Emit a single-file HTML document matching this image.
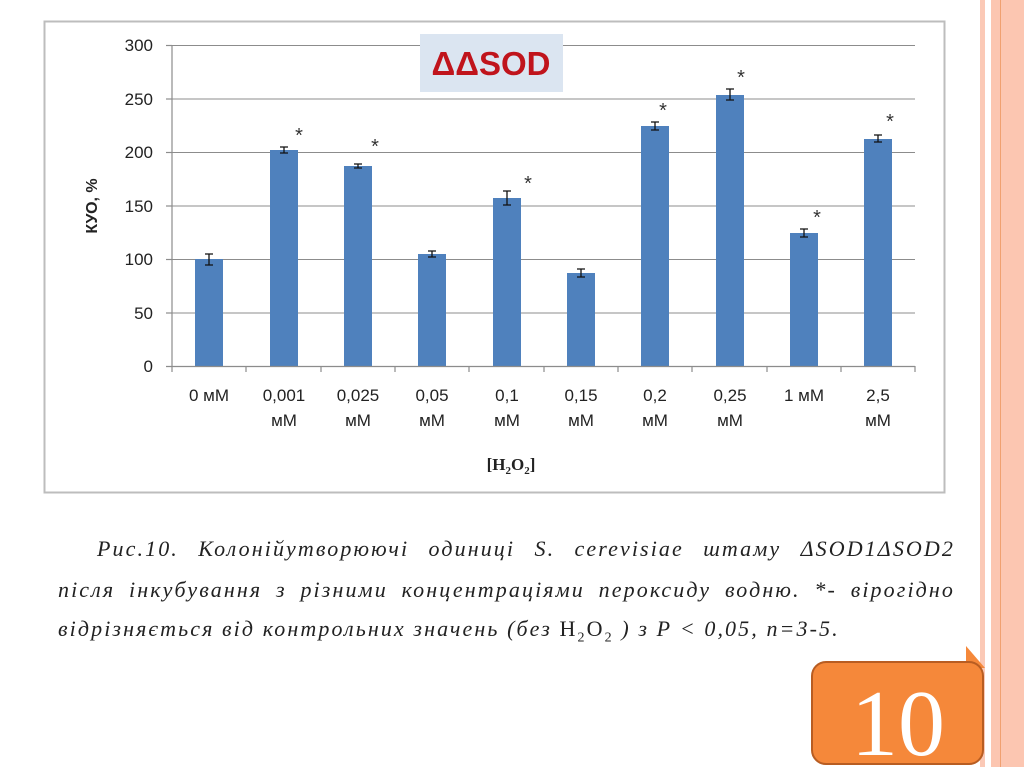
<!DOCTYPE html>
<html><head><meta charset="utf-8"><style>
body{margin:0;width:1024px;height:767px;background:#fff;position:relative;overflow:hidden;font-family:"Liberation Sans",sans-serif}
.cap{position:absolute;font-family:"Liberation Serif","DejaVu Serif",serif;font-style:italic;font-size:22px;letter-spacing:2.1px;color:#222;white-space:nowrap;text-align:justify;text-align-last:justify}
</style></head><body>
<div style="position:absolute;left:980px;top:0;width:5px;height:767px;background:#fbc9b6"></div>
<div style="position:absolute;left:991px;top:0;width:33px;height:767px;background:#fcc6b1"></div>
<div style="position:absolute;left:1000px;top:0;width:1px;height:767px;background:#f0a070"></div>
<svg width="1024" height="767" style="position:absolute;left:0;top:0">
<rect x="44.5" y="21.5" width="900" height="471" fill="#fff" stroke="#bdbdbd" stroke-width="2"/>
<g stroke="#8c8c8c" stroke-width="1">
<line x1="172" x2="915" y1="45.5" y2="45.5"/><line x1="172" x2="915" y1="99" y2="99"/><line x1="172" x2="915" y1="152.5" y2="152.5"/><line x1="172" x2="915" y1="206" y2="206"/><line x1="172" x2="915" y1="259.5" y2="259.5"/><line x1="172" x2="915" y1="313" y2="313"/>
</g>
<rect x="420" y="34" width="143" height="58" fill="#dbe5f1"/>
<text x="491" y="75" text-anchor="middle" font-size="33" font-weight="bold" fill="#c0141c" font-family="Liberation Sans, sans-serif">ΔΔSOD</text>
<g font-size="17" fill="#222" text-anchor="end">
<text x="153" y="51">300</text><text x="153" y="105">250</text><text x="153" y="158">200</text><text x="153" y="212">150</text><text x="153" y="265">100</text><text x="153" y="319">50</text><text x="153" y="372">0</text>
</g>
<text transform="translate(97,206) rotate(-90)" text-anchor="middle" font-size="16" font-weight="bold" fill="#222">КУО, %</text>
<g fill="#4f81bd">
<rect x="195" y="259" width="28" height="107"/><rect x="270" y="150" width="28" height="216"/><rect x="344" y="166" width="28" height="200"/><rect x="418" y="254" width="28" height="112"/><rect x="493" y="198" width="28" height="168"/><rect x="567" y="273" width="28" height="93"/><rect x="641" y="126" width="28" height="240"/><rect x="716" y="95" width="28" height="271"/><rect x="790" y="233" width="28" height="133"/><rect x="864" y="139" width="28" height="227"/>
</g>
<g stroke="#111" stroke-width="1.3">
<path d="M209 254v11M205 254h8M205 265h8"/>
<path d="M284 147v6M280 147h8M280 153h8"/>
<path d="M358 164v4M354 164h8M354 168h8"/>
<path d="M432 251v6M428 251h8M428 257h8"/>
<path d="M507 191v14M503 191h8M503 205h8"/>
<path d="M581 269v8M577 269h8M577 277h8"/>
<path d="M655 122v8M651 122h8M651 130h8"/>
<path d="M730 89v11M726 89h8M726 100h8"/>
<path d="M804 229v8M800 229h8M800 237h8"/>
<path d="M878 135v7M874 135h8M874 142h8"/>
</g>
<g font-size="20" fill="#333" text-anchor="middle">
<text x="299" y="142">*</text><text x="375" y="153">*</text><text x="528" y="190">*</text><text x="663" y="117">*</text><text x="741" y="84">*</text><text x="817" y="224">*</text><text x="890" y="128">*</text>
</g>
<g stroke="#8c8c8c" stroke-width="1.2">
<line x1="172" x2="172" y1="45" y2="372"/><line x1="166" x2="915" y1="366.5" y2="366.5"/>
<line x1="166" x2="172" y1="45.5" y2="45.5"/><line x1="166" x2="172" y1="99" y2="99"/><line x1="166" x2="172" y1="152.5" y2="152.5"/><line x1="166" x2="172" y1="206" y2="206"/><line x1="166" x2="172" y1="259.5" y2="259.5"/><line x1="166" x2="172" y1="313" y2="313"/>
<path d="M246 366v6M321 366v6M395 366v6M469 366v6M544 366v6M618 366v6M692 366v6M767 366v6M841 366v6M915 366v6"/>
</g>
<g font-size="17" fill="#222" text-anchor="middle">
<text x="209" y="401">0 мМ</text>
<text x="284" y="401">0,001</text><text x="284" y="426">мМ</text>
<text x="358" y="401">0,025</text><text x="358" y="426">мМ</text>
<text x="432" y="401">0,05</text><text x="432" y="426">мМ</text>
<text x="507" y="401">0,1</text><text x="507" y="426">мМ</text>
<text x="581" y="401">0,15</text><text x="581" y="426">мМ</text>
<text x="655" y="401">0,2</text><text x="655" y="426">мМ</text>
<text x="730" y="401">0,25</text><text x="730" y="426">мМ</text>
<text x="804" y="401">1 мМ</text>
<text x="878" y="401">2,5</text><text x="878" y="426">мМ</text>
</g>
<text x="511" y="470" text-anchor="middle" font-family="Liberation Serif, serif" font-weight="bold" font-size="17" fill="#222">[H<tspan font-size="11" dy="4">2</tspan><tspan dy="-4">O</tspan><tspan font-size="11" dy="4">2</tspan><tspan dy="-4">]</tspan></text>
<path d="M966 646 L985 668 L966 668 Z" fill="#f5883a"/>
<rect x="812" y="662" width="171" height="102" rx="14" fill="#f5883a" stroke="#b85d22" stroke-width="2"/>
<text x="898" y="755" text-anchor="middle" font-family="Liberation Serif, serif" font-size="94" fill="#fff">10</text>
</svg>
<div class="cap" style="left:97px;top:536px;width:858px">Рис.10. Колонійутворюючі одиниці S. cerevisiae штаму ΔSOD1ΔSOD2</div>
<div class="cap" style="left:58px;top:577px;width:897px">після інкубування з різними концентраціями пероксиду водню. *- вірогідно</div>
<div class="cap" style="left:58px;top:616px;text-align-last:left">відрізняється від контрольних значень (без <span style="font-style:normal">H<sub style="font-size:14px">2</sub>O<sub style="font-size:14px">2</sub></span> ) з Р &lt; 0,05, n=3-5.</div>
</body></html>
